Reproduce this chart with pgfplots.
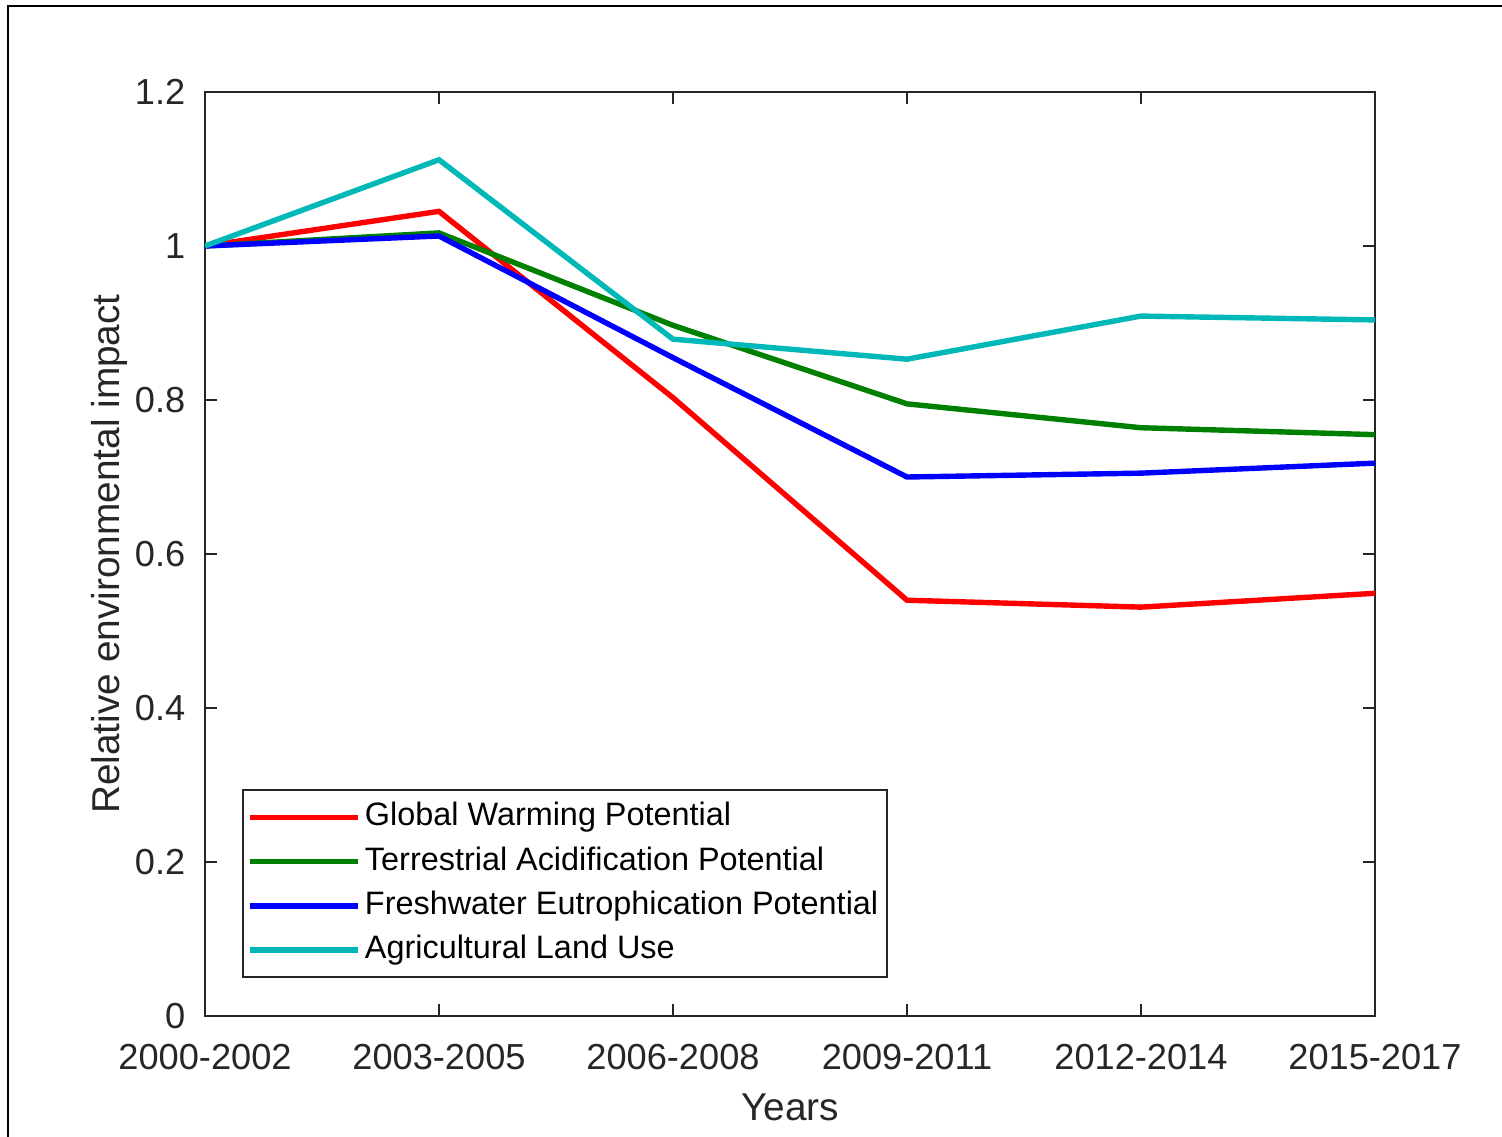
\documentclass[border=0pt]{standalone}
\usepackage{pgfplots}
\pgfplotsset{compat=1.18}
\usepackage{fontspec}
\setmainfont{Liberation Sans}
\definecolor{mgray}{rgb}{0.15,0.15,0.15}
\definecolor{mgreen}{rgb}{0,0.5,0}
\definecolor{mcyan}{rgb}{0,0.72,0.72}
\begin{document}
\begin{tikzpicture}
\path[use as bounding box] (-51.25pt,-30.25pt) rectangle (324.25pt,254pt);
\draw[line width=0.5pt,black] (-49.25pt,-32pt) -- (-49.25pt,252.6pt) -- (326pt,252.6pt);
\begin{axis}[
  at={(0,0)}, anchor=origin,
  scale only axis, width=292.5pt, height=231pt,
  xmin=0, xmax=5, ymin=0, ymax=1.2,
  xtick={0,1,2,3,4,5},
  xticklabels={2000-2002,2003-2005,2006-2008,2009-2011,2012-2014,2015-2017},
  ytick={0,0.2,0.4,0.6,0.8,1,1.2},
  yticklabels={0,0.2,0.4,0.6,0.8,1,1.2},
  tick align=inside, major tick length=3pt,
  axis line style={mgray, line width=0.5pt},
  tick style={mgray, line width=0.5pt},
  every tick label/.append style={font=\fontsize{9.05pt}{10pt}\selectfont, text=mgray},
  xticklabel style={yshift=-3.6pt},
  yticklabel style={xshift=-1.4pt},
  xlabel={Years}, ylabel={Relative environmental impact},
  label style={font=\fontsize{9.7pt}{11pt}\selectfont, text=mgray},
  xlabel style={yshift=1pt},
  ylabel style={yshift=-5pt},
  legend style={at={(0.0316,0.0411)}, anchor=south west, draw=mgray, line width=0.4pt,
    font=\fontsize{8.1pt}{9pt}\selectfont, row sep=-0.3pt, inner xsep=1.2pt, inner ysep=1.1pt,
    nodes={inner xsep=1pt}},
  legend cell align=left,
  legend image code/.code={\draw[#1] (0pt,0pt) -- (27pt,0pt);},
]
\addplot[red, line width=1.35pt] coordinates {(0,1.0) (1,1.045) (2,0.803) (3,0.540) (4,0.531) (5,0.549)};
\addlegendentry{Global Warming Potential}
\addplot[mgreen, line width=1.35pt] coordinates {(0,1.0) (1,1.017) (2,0.897) (3,0.795) (4,0.764) (5,0.755)};
\addlegendentry{Terrestrial Acidification Potential}
\addplot[blue, line width=1.35pt] coordinates {(0,1.0) (1,1.013) (2,0.855) (3,0.700) (4,0.705) (5,0.718)};
\addlegendentry{Freshwater Eutrophication Potential}
\addplot[mcyan, line width=1.35pt] coordinates {(0,1.0) (1,1.112) (2,0.879) (3,0.853) (4,0.909) (5,0.904)};
\addlegendentry{Agricultural Land Use}
\end{axis}
\end{tikzpicture}
\end{document}
